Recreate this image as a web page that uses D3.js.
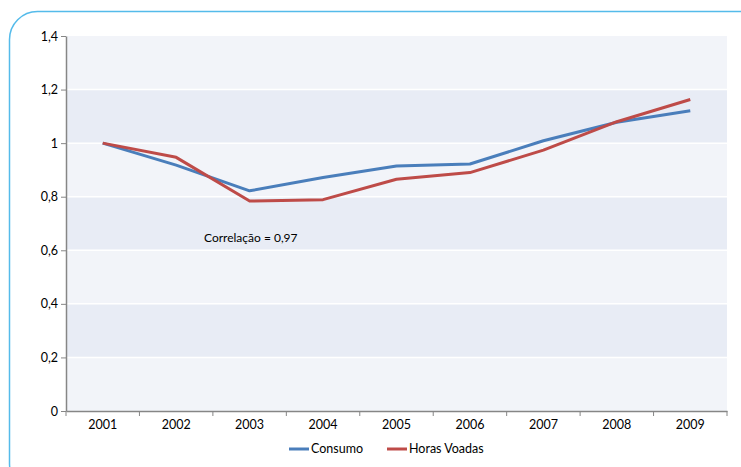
<!DOCTYPE html>
<html>
<head>
<meta charset="utf-8">
<script src="https://cdn.jsdelivr.net/npm/d3@7"></script>
<style>
  html, body { margin: 0; padding: 0; background: #fff; }
  svg { display: block; }
  text { font-family: Lato, "Open Sans", sans-serif; fill: #000; }
</style>
</head>
<body>
<svg id="chart" width="741" height="467"></svg>
<script>
const years = ["2001", "2002", "2003", "2004", "2005", "2006", "2007", "2008", "2009"];
const consumo = [1.0, 0.918, 0.822, 0.872, 0.915, 0.922, 1.009, 1.078, 1.121];
const horasVoadas = [1.0, 0.947, 0.784, 0.789, 0.865, 0.89, 0.974, 1.08, 1.163];
const yTicks = [0, 0.2, 0.4, 0.6, 0.8, 1, 1.2, 1.4];
const seriesNames = ["Consumo", "Horas Voadas"];
const seriesColors = ["#4a7ebb", "#be4b48"];
const annotation = "Correlação = 0,97";

const svg = d3.select("#chart");
const margin = { left: 66, right: 14, top: 36, bottom: 56 };
const W = 741, H = 467;

// outer rounded frame
svg.append("rect")
  .attr("x", 9.5).attr("y", 11.5)
  .attr("width", 760).attr("height", 480)
  .attr("rx", 28).attr("ry", 28)
  .attr("fill", "none")
  .attr("stroke", "#55bbea")
  .attr("stroke-width", 1.5);

const x = d3.scaleBand().domain(years)
  .range([margin.left, W - margin.right]).padding(0);
const y = d3.scaleLinear().domain([0, 1.4])
  .range([H - margin.bottom, margin.top]);

const fmt = v => d3.format("~g")(v).replace(".", ",");

// alternating horizontal bands
const bands = d3.range(yTicks.length - 1).map(i => [yTicks[i], yTicks[i + 1]]);
svg.append("g").selectAll("rect").data(bands).join("rect")
  .attr("x", margin.left)
  .attr("width", W - margin.right - margin.left)
  .attr("y", d => y(d[1]))
  .attr("height", d => y(d[0]) - y(d[1]))
  .attr("fill", (d, i) => i % 2 === 0 ? "#f2f4f9" : "#e8ecf5");

// white gridlines
svg.append("g").selectAll("line").data(yTicks.slice(1, -1)).join("line")
  .attr("x1", margin.left).attr("x2", W - margin.right)
  .attr("y1", d => y(d)).attr("y2", d => y(d))
  .attr("stroke", "#fff").attr("stroke-width", 1.5);

// y axis
const yAxis = svg.append("g")
  .attr("transform", `translate(${margin.left},0)`)
  .call(d3.axisLeft(y).tickValues(yTicks).tickFormat(fmt).tickSize(5).tickSizeOuter(0));
yAxis.select(".domain").attr("stroke", "#868686").attr("stroke-width", 1.5);
yAxis.selectAll(".tick line").attr("stroke", "#868686").attr("stroke-width", 1);
yAxis.selectAll(".tick text").attr("x", -8).style("font-size", "12.5px")
  .style("font-family", "Lato, 'Open Sans', sans-serif").attr("fill", "#000");

// x axis with ticks at category boundaries
const xAxis = svg.append("g")
  .attr("transform", `translate(0,${H - margin.bottom})`)
  .call(d3.axisBottom(x).tickSize(0).tickSizeOuter(0));
xAxis.select(".domain").attr("stroke", "#868686").attr("stroke-width", 1.5);
xAxis.selectAll(".tick text").attr("y", 9).style("font-size", "12.5px")
  .style("font-family", "Lato, 'Open Sans', sans-serif").attr("fill", "#000");
xAxis.append("g").selectAll("line").data(years.concat(["end"])).join("line")
  .attr("x1", (d, i) => margin.left + i * x.bandwidth())
  .attr("x2", (d, i) => margin.left + i * x.bandwidth())
  .attr("y1", 0).attr("y2", 5)
  .attr("stroke", "#868686").attr("stroke-width", 1);

// series lines
const line = d3.line()
  .x((d, i) => x(years[i]) + x.bandwidth() / 2)
  .y(d => y(d));
[consumo, horasVoadas].forEach((s, k) => {
  svg.append("path").datum(s)
    .attr("d", line)
    .attr("fill", "none")
    .attr("stroke", seriesColors[k])
    .attr("stroke-width", 3)
    .attr("stroke-linejoin", "round")
    .attr("stroke-linecap", "butt");
});

// correlation note
svg.append("text")
  .attr("x", 204).attr("y", 242)
  .style("font-size", "12px")
  .text(annotation);

// legend
const legendItems = [
  { name: seriesNames[0], color: seriesColors[0], x: 289 },
  { name: seriesNames[1], color: seriesColors[1], x: 387 }
];
const lg = svg.append("g");
legendItems.forEach(it => {
  lg.append("line")
    .attr("x1", it.x).attr("x2", it.x + 20)
    .attr("y1", 449).attr("y2", 449)
    .attr("stroke", it.color).attr("stroke-width", 3);
  lg.append("text")
    .attr("x", it.x + 22).attr("y", 453)
    .style("font-size", "12.5px")
    .text(it.name);
});
</script>
</body>
</html>
